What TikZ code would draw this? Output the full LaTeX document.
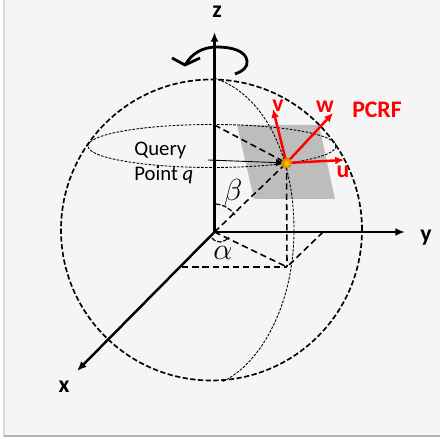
\documentclass[tikz,border=0pt]{standalone}
\usepackage{amsmath,amssymb}
\usepackage{xcolor}
\usepackage{fontspec}
\setmainfont{Carlito}
\usetikzlibrary{calc,positioning,arrows.meta}
\definecolor{panelgray}{HTML}{F5F5F5}
\definecolor{planegray}{HTML}{BEBDBD}
\begin{document}
\begin{tikzpicture}[
  x=0.02cm, y=0.02cm,
  axis/.style={-{Latex[length=5.5pt,width=4.5pt]}, line width=1.4pt, black},
  rim/.style={dash pattern=on 3pt off 1.4pt, line width=0.95pt},
  thindash/.style={dash pattern=on 1.5pt off 0.8pt, line width=0.5pt},
  guide/.style={dash pattern=on 3.6pt off 2.2pt, line width=0.9pt},
  anglemark/.style={dash pattern=on 2.6pt off 1pt, line width=0.65pt},
  frame/.style={-{Latex[length=5pt,width=4.5pt]}, line width=1.4pt, red},
  axlbl/.style={font=\bfseries\fontsize{13.5}{15}\selectfont, inner sep=0pt},
  redlbl/.style={font=\bfseries\fontsize{13.5}{15}\selectfont, text=red, inner sep=0pt},
  txt/.style={font=\fontsize{11.8}{14}\selectfont, inner sep=0pt, anchor=west},
  greek/.style={inner sep=0pt, font=\fontsize{17}{17}\selectfont},
]
\useasboundingbox (0,0) rectangle (440,443);
% === Panel ===
\fill[gray!30] (3.5,5.5) rectangle (440,443);
\fill[gray!60] (4,5.5) rectangle (440,8);
\fill[panelgray] (5,8) rectangle (440,443);
% === Points ===
\coordinate (orig) at (214.5,211);
\coordinate (ztip) at (214.5,411);
\coordinate (ytip) at (405,211);
\coordinate (xtip) at (77,72);
\coordinate (qpt) at (286.5,280);
\coordinate (foot) at (287,176);
\coordinate (zlat) at (214.5,318);
\coordinate (yfoot) at (323,211);
\coordinate (xfoot) at (182,176);
\coordinate (vtip) at (273,334);
\coordinate (wtip) at (333,330);
\coordinate (utip) at (344,283);
% === Tangent plane ===
\fill[planegray] (237,318) -- (319,318) -- (335,244) -- (254,244) -- cycle;
% === Sphere ===
\draw[rim] (211.5,213) circle (150.5);
\draw[thindash] (212,297) ellipse (124 and 21.5);
\draw[thindash] (214,365) .. controls (262,350) and (294,290) .. (294,213)
  .. controls (294,140) and (262,80) .. (222,61);
% === Guides ===
\draw[guide] (orig) -- (qpt);
\draw[guide] (zlat) -- (qpt);
\draw[guide] (qpt) -- (foot);
\draw[guide] (orig) -- (foot);
\draw[guide] (yfoot) -- (foot);
\draw[guide] (xfoot) -- (foot);
% === Axes ===
\draw[axis] (orig) -- (ztip);
\draw[axis] (orig) -- (ytip);
\draw[axis] (orig) -- (xtip);
\node[axlbl] (zlbl) at (217,431) {z};
\node[axlbl] (ylbl) at (426,205) {y};
\node[axlbl] (xlbl) at (64,56) {x};
% === Rotation ===
\draw[line width=1.6pt] (235,369) .. controls (243,372) and (248,376) .. (247,382)
  .. controls (246,392) and (232,396) .. (217,396)
  .. controls (203,396) and (192,390) .. (185,378);
\draw[line width=1.6pt] (172,385) -- (185,378) -- (200,385);
% === Angles ===
\draw[anglemark] (216,239) .. controls (224,238) and (231,234) .. (235,228);
\draw[anglemark] (212,205) .. controls (217,199) and (224,200) .. (229,206);
\node[greek] (betalbl) at (233,250) {$\beta$};
\node[greek] (alphalbl) at (223,190) {$\alpha$};
% === Query point ===
\node[txt] (qtxt) at (134,293) {Query};
\node[txt] (ptxt) at (134,268) {Point \textit{q}};
\coordinate (qarr) at (208,283);
\draw[-{Latex[length=6pt,width=4pt]}, line width=0.5pt] (qarr) -- (qpt);
% === PCRF ===
\draw[frame] (qpt) -- (vtip);
\draw[frame] (qpt) -- (wtip);
\draw[frame] (qpt) -- (utip);
\shade[inner color=yellow!70!orange, outer color=orange!85!black] (qpt) circle (5.5);
\node[redlbl] (vlbl) at (278,337) {v};
\node[redlbl] (wlbl) at (325,336) {w};
\node[redlbl] (ulbl) at (343,271) {u};
\node[redlbl] (pcrf) at (377,333) {PCRF};
\end{tikzpicture}
\end{document}
